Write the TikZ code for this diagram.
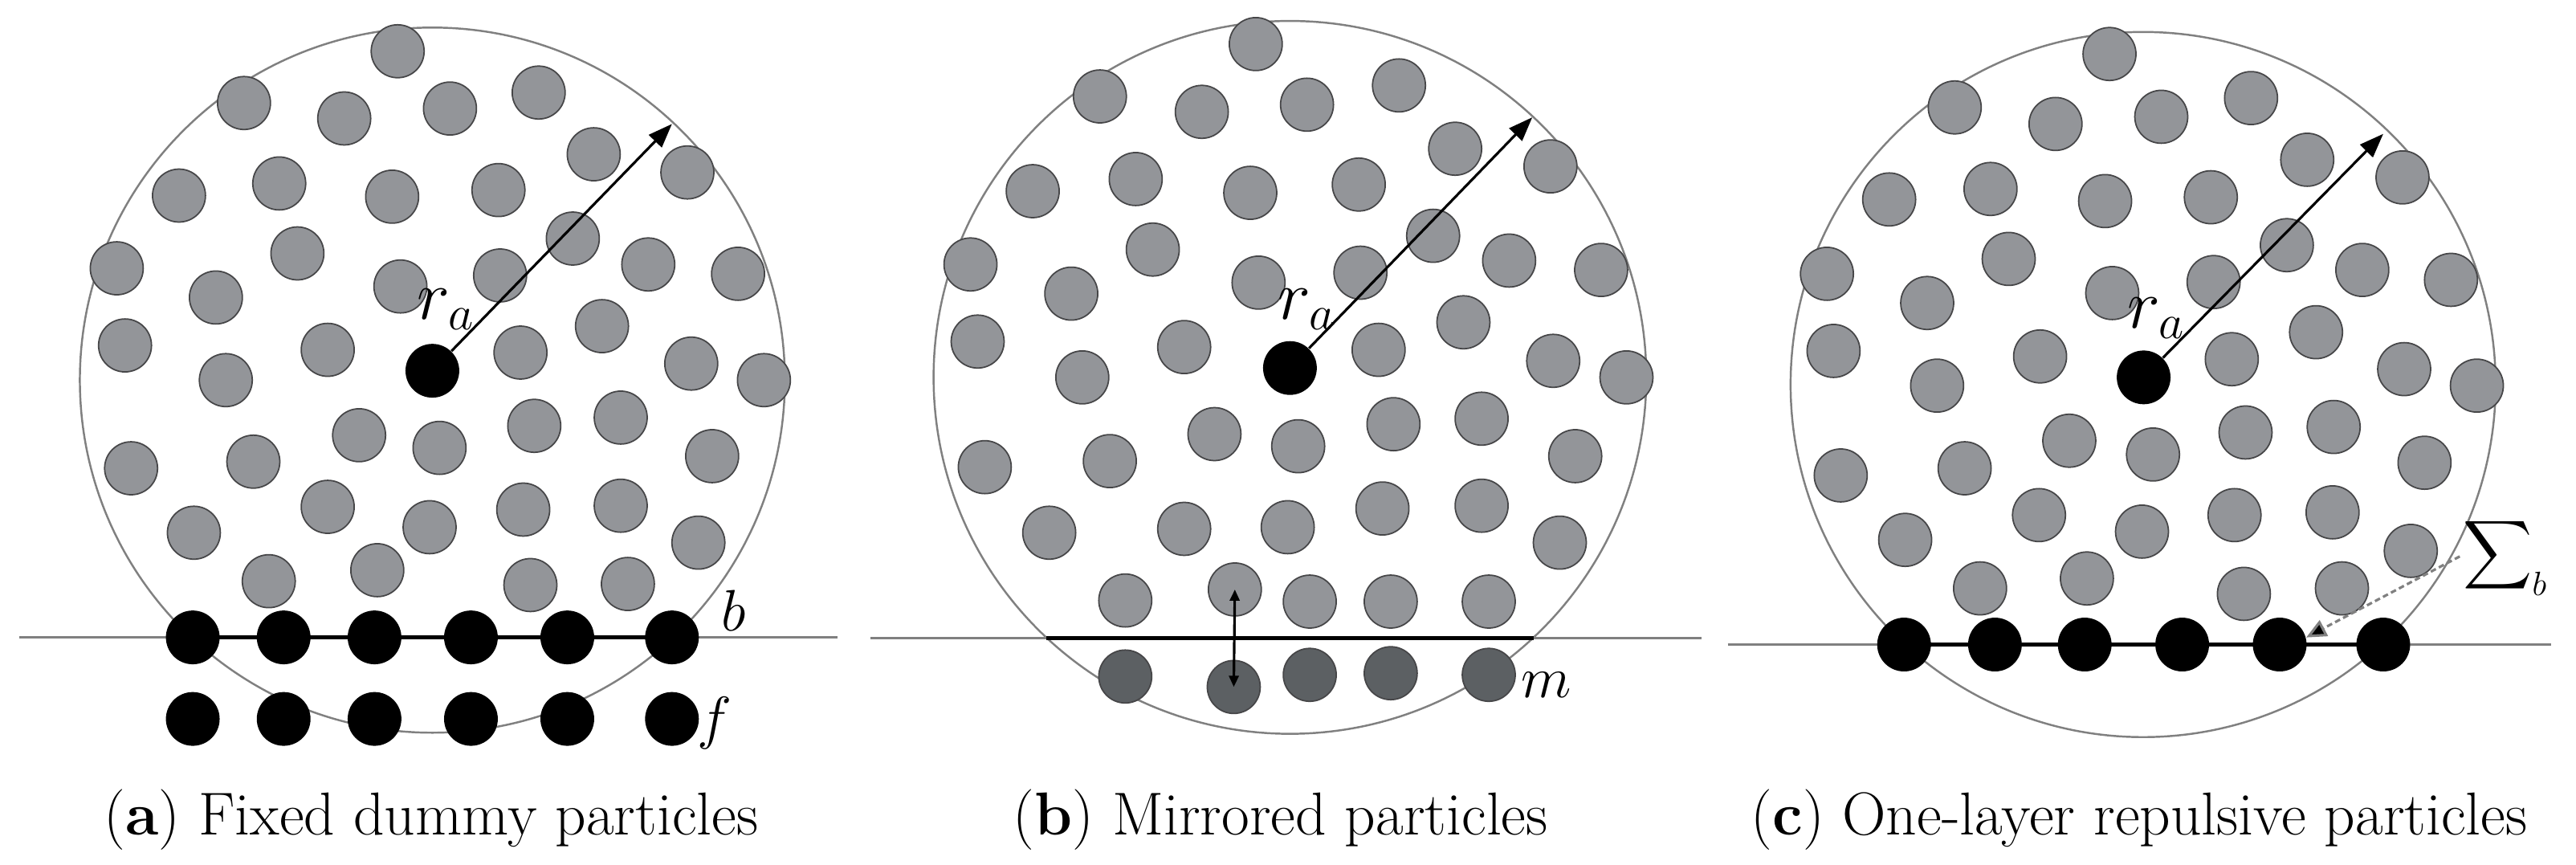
\documentclass[tikz,border=0pt]{standalone}
\usepackage{amsmath}
\usepackage{amssymb}
\usepackage{tikz}
\usepackage{xcolor}
\usetikzlibrary{arrows.meta}

\definecolor{fluidgray}{RGB}{147,149,153}
\definecolor{mirrorgray}{RGB}{92,96,99}
\definecolor{rimgray}{RGB}{70,70,72}
\definecolor{thingray}{RGB}{128,128,128}

\begin{document}
\begin{tikzpicture}[x=0.006859cm,y=-0.006859cm,
    fluidpart/.style={circle,draw=rimgray,line width=0.5pt,fill=fluidgray,minimum size=0.66cm,inner sep=0pt},
    wallpart/.style={circle,fill=black,minimum size=0.67cm,inner sep=0pt},
    mirrorpart/.style={fluidpart,fill=mirrorgray},
    kernel/.style={draw=thingray,line width=0.7pt},
    wall/.style={line width=1.5pt},
    radarrow/.style={line width=0.9pt,-{Triangle[length=0.3cm,width=0.22cm]}},
    symb/.style={font=\fontsize{20}{24}\selectfont},
    radlab/.style={font=\fontsize{23}{27}\selectfont},
    capt/.style={font=\fontsize{21.5}{26}\selectfont,anchor=base}]
    \useasboundingbox (0,0) rectangle (4677,1570);

    % (a) fixed dummy particles
    \begin{scope}
        \draw[kernel] (785,690) circle[radius=640];
        \draw[kernel] (35,1157) -- (1520,1157);
        \foreach \x/\y [count=\i] in {722/93,443/187,625/215,817/197,978/168,
            325/355,507/333,712/357,905/345,1078/280,1248/313,
            212/487,540/460,392/540,727/520,908/500,1040/433,1177/480,1340/497,
            227/627,410/690,595/635,945/640,1093/592,1255/660,1387/690,
            238/850,460/838,652/790,798/813,970/773,1127/758,1293/828,
            352/967,595/920,780/957,950/925,1127/918,1268/985,
            488/1055,685/1035,963/1062,1140/1060}
            \node[fluidpart] (fa\i) at (\x,\y) {};
        \draw[wall] (350,1157) -- (1220,1157);
        \foreach \x [count=\i] in {350,515,680,855,1030,1220} {
            \node[wallpart] (ba\i) at (\x,1157) {};
            \node[wallpart] (da\i) at (\x,1305) {};
        }
        \node[wallpart] (ca) at (785,673) {};
        \coordinate (ta) at (1220,225);
        \draw[radarrow] (ca) -- (ta);
        \node[radlab] (ra) at (810,562) {$r_a$};
        \node[symb] (lb) at (1332,1108) {$b$};
        \node[symb] (lf) at (1297,1312) {$f$};
        \node[capt] (capa) at (783,1515) {(\textbf{a}) Fixed dummy particles};
    \end{scope}

    % (b) mirrored particles
    \begin{scope}[shift={(1560,0)}]
        \draw[kernel] (782,685) circle[radius=647];
        \draw[kernel] (20,1158) -- (1530,1158);
        \foreach \x/\y [count=\i] in {720/80,437/175,622/203,813/190,980/155,
            315/347,502/325,710/350,907/335,1082/270,1255/302,
            202/480,533/453,385/533,725/513,910/495,1042/428,1180/473,1347/490,
            215/620,405/685,590/630,943/635,1097/585,1260/655,1393/685,
            228/848,455/837,645/788,797/810,970/770,1130/760,1300/828,
            345/967,590/960,778/957,950/923,1130/918,1272/985,
            483/1090,682/1070,818/1092,965/1092,1143/1092}
            \node[fluidpart] (fb\i) at (\x,\y) {};
        \draw[wall] (340,1158) -- (1225,1158);
        \foreach \x/\y [count=\i] in {483/1228,680/1247,818/1225,965/1222,1143/1225}
            \node[mirrorpart] (mb\i) at (\x,\y) {};
        \draw[line width=0.9pt,{Triangle[length=0.14cm,width=0.12cm]}-{Triangle[length=0.14cm,width=0.12cm]}] (fb41.center) -- (mb2.center);
        \node[wallpart] (cb) at (782,668) {};
        \coordinate (tb) at (1222,213);
        \draw[radarrow] (cb) -- (tb);
        \node[radlab] (rb) at (813,562) {$r_a$};
        \node[symb] (lm) at (1247,1243) {$m$};
        \node[capt] (capb) at (765,1515) {(\textbf{b}) Mirrored particles};
    \end{scope}

    % (c) one-layer repulsive particles
    \begin{scope}[shift={(3117,0)}]
        \draw[kernel] (774,698) circle[radius=640];
        \draw[kernel] (20,1170) -- (1515,1170);
        \foreach \x/\y [count=\i] in {713/98,432/195,615/225,807/212,970/178,
            313/362,497/343,705/365,897/358,1072/290,1245/322,
            200/497,530/470,382/550,718/532,902/512,1035/445,1172/490,1333/508,
            212/637,400/700,587/647,935/652,1088/603,1248/670,1380/700,
            225/863,450/850,640/800,792/825,960/785,1120/775,1285/840,
            342/980,585/935,772/965,940/935,1118/930,1260/1000,
            478/1068,672/1050,957/1078,1135/1068}
            \node[fluidpart] (fc\i) at (\x,\y) {};
        \draw[wall] (340,1170) -- (1210,1170);
        \foreach \x [count=\i] in {340,505,668,845,1022,1210}
            \node[wallpart] (bc\i) at (\x,1170) {};
        \node[wallpart] (cc) at (775,685) {};
        \coordinate (tc) at (1210,243);
        \draw[radarrow] (cc) -- (tc);
        \node[radlab] (rc) at (798,577) {$r_a$};
        \node[symb,font=\fontsize{17}{20}\selectfont,inner sep=1pt] (sig) at (1432,1010) {$\displaystyle\sum\nolimits_b$};
        \draw[draw=thingray,line width=0.9pt,dash pattern=on 2pt off 1.2pt,-{Triangle[length=0.25cm,width=0.22cm,fill=black]}] (sig.west) -- (bc5.15);
        \node[capt] (capc) at (767,1515) {(\textbf{c}) One-layer repulsive particles};
    \end{scope}
\end{tikzpicture}
\end{document}
